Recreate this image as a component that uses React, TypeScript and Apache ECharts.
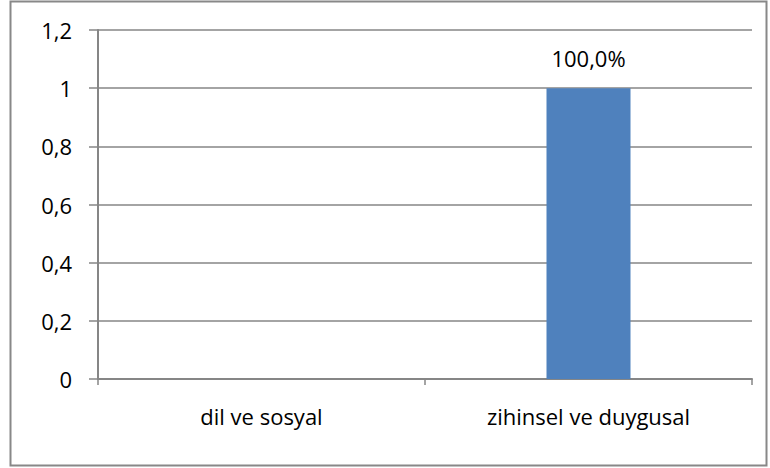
import React, { useEffect, useRef } from "react";
import * as echarts from "echarts";

const categories = ["dil ve sosyal", "zihinsel ve duygusal"];
const values = [0, 1];
const yTicks = [0, 0.2, 0.4, 0.6, 0.8, 1, 1.2];

const FONT = "'Open Sans', 'Noto Sans', sans-serif";
const FS = 22;

export default function App() {
  const ref = useRef<HTMLDivElement>(null);
  useEffect(() => {
    if (!ref.current) return;
    const chart = echarts.init(ref.current, undefined, { renderer: "svg" });
    chart.setOption({
      animation: false,
      graphic: [
        {
          type: "rect",
          shape: { x: 10.5, y: 1.5, width: 756, height: 464 },
          style: { fill: "none", stroke: "#888888", lineWidth: 2 },
          silent: true,
        },
      ],
      grid: { left: 98, right: 18, top: 30, bottom: 89, containLabel: false },
      xAxis: {
        type: "category",
        data: categories,
        axisLine: { show: true, lineStyle: { color: "#868686", width: 2 } },
        axisTick: { show: true, alignWithLabel: false, length: 6, lineStyle: { color: "#868686", width: 1.5 } },
        axisLabel: { margin: 26, fontSize: FS, color: "#000", fontFamily: FONT },
        splitLine: { show: false },
      },
      yAxis: {
        type: "value",
        min: yTicks[0],
        max: yTicks[yTicks.length - 1],
        interval: 0.2,
        axisLine: { show: true, lineStyle: { color: "#868686", width: 2 } },
        axisTick: { show: true, inside: false, length: 9, lineStyle: { color: "#868686", width: 1.5 } },
        axisLabel: {
          margin: 26,
          fontSize: FS,
          color: "#000",
          fontFamily: FONT,
          formatter: (v: number) => {
            const r = Math.round(v * 10) / 10;
            return String(r).replace(".", ",");
          },
        },
        splitLine: { show: true, lineStyle: { color: "#868686", width: 1.5 } },
      },
      series: [
        {
          type: "bar",
          data: values,
          barWidth: 84,
          itemStyle: { color: "#4F81BD" },
          label: {
            show: true,
            position: "top",
            distance: 19,
            fontSize: FS,
            color: "#000",
            fontFamily: FONT,
            formatter: (p: any) =>
              p.value === 0 ? "" : (p.value * 100).toFixed(1).replace(".", ",") + "%",
          },
        },
      ],
    });
    return () => chart.dispose();
  }, []);
  return (
    <div
      ref={ref}
      style={{ position: "fixed", left: 0, top: 0, width: 770, height: 468, background: "#fff" }}
    />
  );
}
